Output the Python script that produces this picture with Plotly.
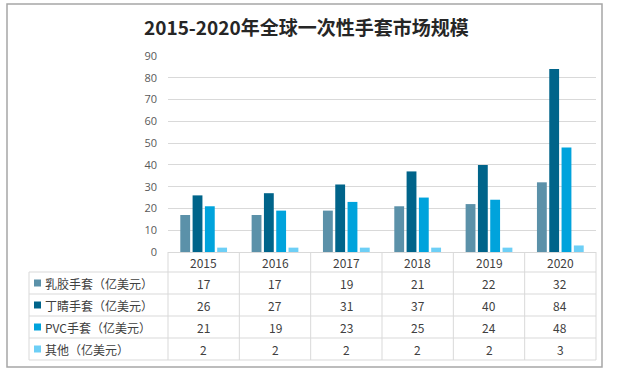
import plotly.graph_objects as go

years = ["2015", "2016", "2017", "2018", "2019", "2020"]
series_names = ["乳胶手套（亿美元）", "丁睛手套（亿美元）", "PVC手套（亿美元）", "其他（亿美元）"]
latex = [17, 17, 19, 21, 22, 32]
nitrile = [26, 27, 31, 37, 40, 84]
pvc = [21, 19, 23, 25, 24, 48]
other = [2, 2, 2, 2, 2, 3]
colors = ["#5b91a9", "#00648a", "#00a3dc", "#6dcff6"]
title_text = "2015-2020年全球一次性手套市场规模"

W, H = 620, 371
X0, X1, Y0, Y1 = 168, 596, 56, 252


def px(x):
    return (x - X0) / (X1 - X0)


def py(y):
    return (Y1 - y) / (Y1 - Y0)


values = [latex, nitrile, pvc, other]
fig = go.Figure()
for name, vals, c in zip(series_names, values, colors):
    fig.add_trace(go.Bar(x=years, y=vals, name=name, marker_color=c, marker_line_width=0))

shapes = []
annotations = []
line_c = "#d9d9d9"
font_tab = dict(family="Noto Sans CJK SC, Open Sans", size=12, color="#404040")

# outer border
shapes.append(dict(type="rect", xref="paper", yref="paper", x0=px(7), x1=px(602), y0=py(4), y1=py(367),
                   line=dict(color="#a6a6a6", width=1.5), layer="below"))

n = len(years)
colw = (X1 - X0) / n
row_tops = [272, 294, 316, 338, 360]
for yy in row_tops:
    shapes.append(dict(type="line", xref="paper", yref="paper", x0=px(29), x1=px(X1), y0=py(yy), y1=py(yy),
                       line=dict(color=line_c, width=1)))
for i in range(n + 1):
    xx = X0 + i * colw
    shapes.append(dict(type="line", xref="paper", yref="paper", x0=px(xx), x1=px(xx), y0=py(Y1), y1=py(360),
                       line=dict(color=line_c, width=1)))
shapes.append(dict(type="line", xref="paper", yref="paper", x0=px(29), x1=px(29), y0=py(272), y1=py(360),
                   line=dict(color=line_c, width=1)))

for i, yv in enumerate(years):
    annotations.append(dict(xref="paper", yref="paper", x=px(X0 + (i + 0.5) * colw), y=py(262), text=yv,
                            showarrow=False, xanchor="center", yanchor="middle", font=font_tab))
for r, (name, vals, c) in enumerate(zip(series_names, values, colors)):
    ymid = (row_tops[r] + row_tops[r + 1]) / 2
    shapes.append(dict(type="rect", xref="paper", yref="paper", x0=px(34), x1=px(41), y0=py(ymid - 3.5),
                       y1=py(ymid + 3.5), fillcolor=c, line=dict(width=0)))
    annotations.append(dict(xref="paper", yref="paper", x=px(43), y=py(ymid), text=name, showarrow=False,
                            xanchor="left", yanchor="middle", font=font_tab))
    for i, v in enumerate(vals):
        annotations.append(dict(xref="paper", yref="paper", x=px(X0 + (i + 0.5) * colw), y=py(ymid),
                                text=str(v), showarrow=False, xanchor="center", yanchor="middle", font=font_tab))

annotations.append(dict(xref="paper", yref="paper", x=px(306), y=py(27), text="<b>" + title_text + "</b>",
                        showarrow=False, xanchor="center", yanchor="middle",
                        font=dict(family="Noto Sans CJK SC", size=19, color="#262626")))

fig.update_layout(
    width=W, height=H,
    margin=dict(l=X0, r=W - X1, t=Y0, b=H - Y1, pad=0),
    paper_bgcolor="white", plot_bgcolor="white",
    showlegend=False,
    barmode="group", bargap=0.31, bargroupgap=0.2,
    xaxis=dict(showticklabels=False, showgrid=False, showline=True, linecolor=line_c, linewidth=1,
               ticks="", zeroline=False),
    yaxis=dict(range=[0, 90], dtick=10, showgrid=True, gridcolor=line_c, gridwidth=1, zeroline=False,
               showline=False, tickfont=dict(family="Open Sans", size=11, color="#595959"),
               ticklabelstandoff=10),
    shapes=shapes, annotations=annotations,
)

fig.write_html("out.html", config={"displayModeBar": False},
               post_script="document.body.style.margin='0';document.body.style.overflow='hidden';")
